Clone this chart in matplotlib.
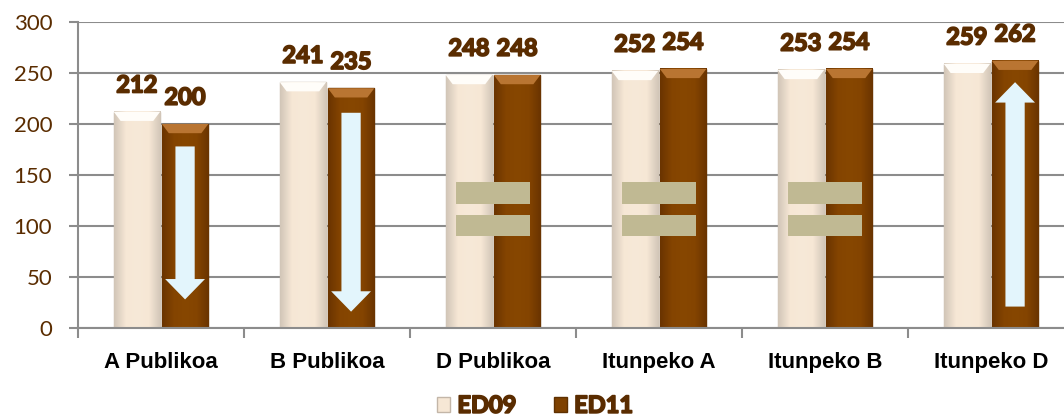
import matplotlib
matplotlib.use("Agg")
import matplotlib.pyplot as plt
import matplotlib.patheffects as pe
from matplotlib import font_manager as fm
from matplotlib.colors import LinearSegmentedColormap
import numpy as np

categories = ["A Publikoa", "B Publikoa", "D Publikoa", "Itunpeko A", "Itunpeko B", "Itunpeko D"]
ed09 = [212, 241, 248, 252, 253, 259]
ed11 = [200, 235, 248, 254, 254, 262]
series_names = ["ED09", "ED11"]

# trend markers: (category index, from value, to value)
down_arrows = [(0, 178, 28), (1, 211, 16)]
up_arrows = [(5, 21, 241)]
equal_signs = [2, 3, 4]

brown_text = "#5a2c00"
c09 = "#f6e7d5"
c11 = "#7e4100"
arrow_col = "#e3f5fc"
eq_col = "#c0b993"


def bold_family(cands):
    have = {}
    for f in fm.fontManager.ttflist:
        w = f.weight if isinstance(f.weight, int) else 400
        have[f.name] = max(have.get(f.name, 0), w)
    for c in cands:
        if have.get(c, 0) >= 700:
            return c
    return "DejaVu Sans"


num_font = bold_family(["Lato", "Open Sans", "Noto Sans", "Roboto"])
thick = [pe.withStroke(linewidth=1.3, foreground=brown_text)]

fig = plt.figure(figsize=(10.64, 4.2), dpi=100)
ax = fig.add_axes([78 / 1064, 92 / 420, 996 / 1064, 306 / 420])

x = np.arange(len(categories))
w = 0.28
off = 0.145

b09 = ax.bar(x - off, ed09, w, color=c09, edgecolor="#c3b6a8", linewidth=1.0, zorder=3, label=series_names[0])
b11 = ax.bar(x + off, ed11, w, color=c11, edgecolor="#5e3000", linewidth=1.0, zorder=3, label=series_names[1])

# soft cylinder-like shading on the bars
cm09 = LinearSegmentedColormap.from_list("c09", ["#d2c6b8", "#f6e7d5", "#f7e9d8", "#f6e7d5", "#d2c6b8"])
cm11 = LinearSegmentedColormap.from_list("c11", ["#6a3400", "#844400", "#874700", "#844400", "#6a3400"])
grad = np.linspace(0, 1, 64).reshape(1, -1)
for bars, cm, top in [(b09, cm09, "#fffdf9"), (b11, cm11, "#b97532")]:
    for r in bars:
        x0, wd, h = r.get_x(), r.get_width(), r.get_height()
        ax.imshow(grad, extent=[x0, x0 + wd, 0, h], aspect="auto", cmap=cm, zorder=3.1)
        ax.fill([x0, x0 + wd, x0 + wd * 0.85, x0 + wd * 0.15], [h, h, h - 9, h - 9],
                color=top, zorder=3.2, linewidth=0)

for i in range(len(categories)):
    ax.text(x[i] - off, ed09[i] + 15, str(ed09[i]), ha="center", va="bottom",
            fontsize=17, fontweight="bold", color=brown_text, family=num_font, path_effects=thick)
    ax.text(x[i] + off, ed11[i] + 15, str(ed11[i]), ha="center", va="bottom",
            fontsize=17, fontweight="bold", color=brown_text, family=num_font, path_effects=thick)


def arrow(cx, y0, y1):
    sw = 0.058
    hw = 0.12
    hl = 20 if y1 > y0 else -20
    xs = [cx - sw, cx - sw, cx - hw, cx, cx + hw, cx + sw, cx + sw]
    ys = [y0, y1 - hl, y1 - hl, y1, y1 - hl, y1 - hl, y0]
    ax.fill(xs, ys, color=arrow_col, zorder=4, linewidth=0)


for i, a, b in down_arrows + up_arrows:
    arrow(x[i] + off, a, b)

for i in equal_signs:
    for lo, hi in [(121.8, 143.4), (90.3, 111)]:
        ax.fill([x[i] - 0.223, x[i] + 0.223, x[i] + 0.223, x[i] - 0.223],
                [lo, lo, hi, hi], color=eq_col, zorder=4, linewidth=0)

ax.set_xlim(-0.5, len(categories) - 0.5)
ax.set_ylim(0, 300)
ax.set_yticks(range(0, 301, 50))
ax.grid(axis="y", color="#8c8c8c", linewidth=1.5, zorder=0)
ax.tick_params(axis="y", length=6.5, width=1.5, color="#8c8c8c", pad=12,
               labelsize=16, labelcolor=brown_text)
for lab in ax.get_yticklabels():
    lab.set_family("Lato")

ax.set_xticks(x)
ax.set_xticklabels(categories, fontsize=16, fontweight="bold", family="Liberation Sans")
ax.tick_params(axis="x", length=0, pad=17)
ax.set_xticks(np.arange(-0.5, len(categories)), minor=True)
ax.tick_params(axis="x", which="minor", length=7, width=1.5, color="#8c8c8c")

for s in ["top", "right"]:
    ax.spines[s].set_visible(False)
for s in ["left", "bottom"]:
    ax.spines[s].set_color("#8c8c8c")
    ax.spines[s].set_linewidth(1.5)
ax.spines["left"].set_zorder(5)
ax.spines["bottom"].set_zorder(5)

leg = fig.legend(handles=[b09, b11], loc="center", bbox_to_anchor=(0.503, 0.035), ncol=2, frameon=False,
                 handlelength=0.55, handleheight=0.55, handletextpad=0.3, columnspacing=1.6,
                 prop={"family": num_font, "weight": "bold", "size": 17})
for t in leg.get_texts():
    t.set_color(brown_text)
    t.set_path_effects(thick)

fig.savefig("out.png", dpi=100)
